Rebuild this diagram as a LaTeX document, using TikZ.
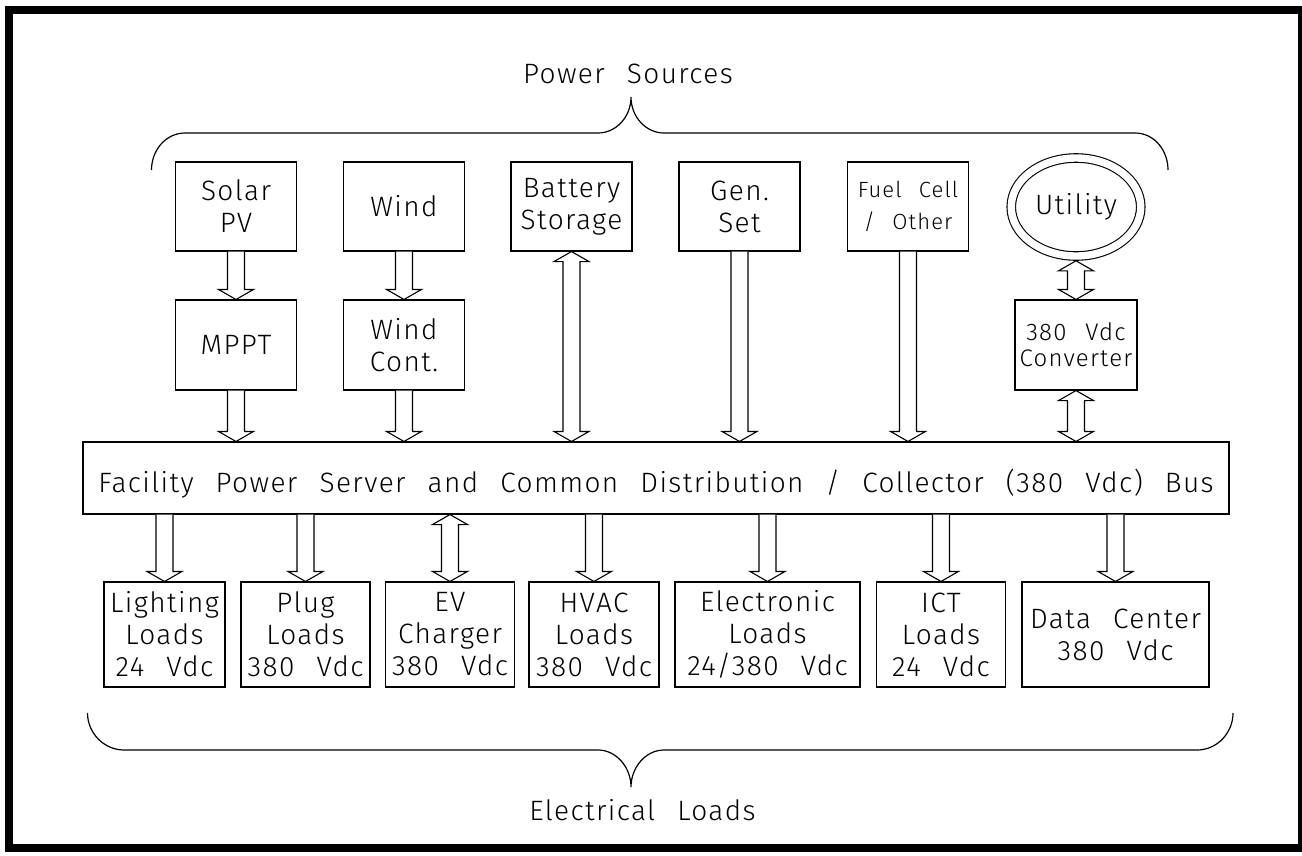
\documentclass[tikz,border=0pt]{standalone}
\usepackage{fontspec}
\setmainfont{Fira Sans}[UprightFont={* Light}, LetterSpace=5, WordSpace=2.4]
\usetikzlibrary{calc,shapes.geometric}
\tikzset{
  box/.style={draw, line width=1.1pt, rectangle, inner sep=0pt, align=center,
    font=\fontsize{28}{32}\selectfont},
  arr/.style={draw, line width=1.1pt, fill=white, line join=miter},
  brace/.style={draw, line width=1.2pt},
  lbl/.style={inner sep=0pt, anchor=base, font=\fontsize{28}{32}\selectfont}
}
\newcommand{\sarrow}[2]{\draw[arr] let \p1=(#1), \p2=(#2) in
  (\x1-8.5pt,\y1) -- (\x1-8.5pt,\y2+10pt) -- (\x1-17.5pt,\y2+10pt) -- (\x1,\y2)
  -- (\x1+17.5pt,\y2+10pt) -- (\x1+8.5pt,\y2+10pt) -- (\x1+8.5pt,\y1);}
\newcommand{\darrow}[2]{\draw[arr] let \p1=(#1), \p2=(#2) in
  (\x1,\y1) -- (\x1+17.5pt,\y1-10pt) -- (\x1+8.5pt,\y1-10pt) -- (\x1+8.5pt,\y2+10pt)
  -- (\x1+17.5pt,\y2+10pt) -- (\x1,\y2) -- (\x1-17.5pt,\y2+10pt) -- (\x1-8.5pt,\y2+10pt)
  -- (\x1-8.5pt,\y1-10pt) -- (\x1-17.5pt,\y1-10pt) -- cycle;}
\begin{document}
\begin{tikzpicture}[x=1pt,y=-1pt]
\useasboundingbox (0,0) rectangle (1302,855);
\fill[white] (0,0) rectangle (1302,855);
\draw[line width=8pt] (9,10) rectangle (1302,847.5);

% labels
\node[lbl] (ps) at (628,83) {Power Sources};
\node[lbl] (el) at (642.5,820) {Electrical Loads};

% braces
\draw[brace] (151.5,170) .. controls (151.5,150) and (166,133) .. (185,133) -- (598,133)
  .. controls (616,133) and (631,117) .. (631,97)
  .. controls (631,117) and (646,133) .. (664,133) -- (1135,133)
  .. controls (1154,133) and (1168,150) .. (1168,170);
\draw[brace] (87.5,713) .. controls (87.5,733) and (104,750) .. (124,750) -- (598,750)
  .. controls (616,750) and (631,767) .. (631,787)
  .. controls (631,767) and (646,750) .. (664,750) -- (1197,750)
  .. controls (1217,750) and (1233,733) .. (1233,713);

% top row
\node[box, minimum width=121pt, minimum height=89pt] (solar) at (236,206.5) {Solar\\PV};
\node[box, minimum width=121pt, minimum height=89pt] (wind) at (404,206.5) {Wind};
\node[box, minimum width=121pt, minimum height=89pt] (batt) at (571.5,206.5) {Battery\\Storage};
\node[box, minimum width=121pt, minimum height=89pt] (gen) at (739.5,206.5) {Gen.\\Set};
\node[box, minimum width=121pt, minimum height=89pt, font=\fontsize{22}{32}\selectfont] (fuel) at (908,206.5) {Fuel Cell\\/ Other};
\node[draw, ellipse, line width=1.1pt, double, double distance=7.4pt, inner sep=0pt,
  outer sep=4.8pt, minimum width=129.5pt, minimum height=98pt,
  font=\fontsize{28}{32}\selectfont] (util) at (1076,207) {Utility};

% second row
\node[box, minimum width=121pt, minimum height=90pt] (mppt) at (236,345) {MPPT};
\node[box, minimum width=121pt, minimum height=90pt] (windc) at (404,345) {Wind\\Cont.};
\node[box, minimum width=122pt, minimum height=90pt, font=\fontsize{24}{26}\selectfont] (conv) at (1076,345) {380 Vdc\\Converter};

% bus
\node[box, minimum width=1146pt, minimum height=72pt, text height=28pt, text depth=0pt] (bus) at (656,478)
  {Facility Power Server and Common Distribution / Collector (380 Vdc) Bus};

% loads
\node[box, minimum width=121pt, minimum height=105pt] (light) at (164.5,634.5) {Lighting\\Loads\\24 Vdc};
\node[box, minimum width=129pt, minimum height=105pt] (plug) at (305.5,634.5) {Plug\\Loads\\380 Vdc};
\node[box, minimum width=128.5pt, minimum height=105pt] (ev) at (450,634.5) {EV\\Charger\\380 Vdc};
\node[box, minimum width=130pt, minimum height=105pt] (hvac) at (594,634.5) {HVAC\\Loads\\380 Vdc};
\node[box, minimum width=185pt, minimum height=105pt] (elec) at (767.5,634.5) {Electronic\\Loads\\24/380 Vdc};
\node[box, minimum width=129.5pt, minimum height=105pt] (ict) at (941,634.5) {ICT\\Loads\\24 Vdc};
\node[box, minimum width=187pt, minimum height=105pt] (dc) at (1115.5,634.5) {Data Center\\380 Vdc};

% arrows top
\sarrow{solar.south}{mppt.north}
\sarrow{wind.south}{windc.north}
\sarrow{mppt.south}{mppt.south |- bus.north}
\sarrow{windc.south}{windc.south |- bus.north}
\darrow{batt.south}{batt.south |- bus.north}
\sarrow{gen.south}{gen.south |- bus.north}
\sarrow{fuel.south}{fuel.south |- bus.north}
\darrow{util.south}{conv.north}
\darrow{conv.south}{conv.south |- bus.north}

% arrows bottom
\sarrow{bus.south -| light.north}{light.north}
\sarrow{bus.south -| plug.north}{plug.north}
\darrow{bus.south -| ev.north}{ev.north}
\sarrow{bus.south -| hvac.north}{hvac.north}
\sarrow{bus.south -| elec.north}{elec.north}
\sarrow{bus.south -| ict.north}{ict.north}
\sarrow{bus.south -| dc.north}{dc.north}
\end{tikzpicture}
\end{document}
